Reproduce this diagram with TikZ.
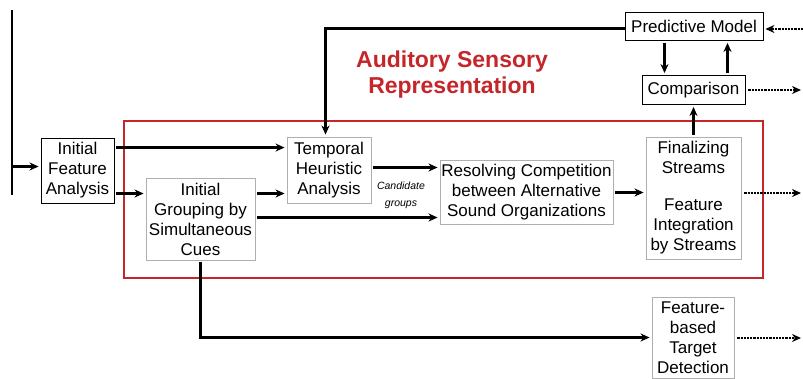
\documentclass[tikz,border=0pt]{standalone}
\usepackage{fontspec}
\setmainfont{Liberation Sans}
\usepackage{xcolor}
\usepackage{tikz}
\usetikzlibrary{arrows.meta,positioning,calc}

\definecolor{asrred}{RGB}{196,38,42}
\definecolor{boxgray}{RGB}{175,175,175}

\tikzset{
  blk/.style={draw=black, line width=0.9pt, align=center, inner sep=0pt,
    font=\fontsize{17}{20}\selectfont},
  gry/.style={blk, draw=boxgray},
  arr/.style={line width=2.2pt, -{Stealth[length=9pt,width=8pt]}, shorten >=2pt, shorten <=2pt},
  dotarr/.style={arr, densely dotted, line width=1.6pt, shorten <=3pt, shorten >=0pt}
}

\begin{document}
\begin{tikzpicture}[x=1pt,y=-1pt]
\useasboundingbox (0,0) rectangle (803,378);

% nodes
\node[draw=asrred, line width=1.6pt, minimum width=639pt, minimum height=157pt] (asr) at (443.5,199.5) {};
\node[text=asrred, align=center, font=\bfseries\fontsize{23}{26}\selectfont] (title) at (452,75) {Auditory Sensory\\Representation};

\node[blk, minimum width=73pt, minimum height=65pt] (ifa) at (77.5,170.5) {Initial\\Feature\\Analysis};
\node[gry, minimum width=109pt, minimum height=82pt] (grp) at (200.5,219) {Initial\\Grouping by\\Simultaneous\\Cues};
\node[gry, minimum width=84pt, minimum height=66pt] (temp) at (329,170) {Temporal\\Heuristic\\Analysis};
\node[gry, minimum width=173pt, minimum height=64pt] (res) at (526.5,192.5) {Resolving Competition\\between Alternative\\Sound Organizations};
\node[gry, minimum width=95pt, minimum height=122pt] (fin) at (693.5,198) {Finalizing\\Streams\\[17pt]Feature\\Integration\\by Streams};
\node[blk, minimum width=138pt, minimum height=28pt] (pred) at (694,26.5) {Predictive Model};
\node[blk, minimum width=103pt, minimum height=29pt] (comp) at (693.5,90) {Comparison};
\node[gry, minimum width=82pt, minimum height=81pt] (det) at (693,337.5) {Feature-\\based\\Target\\Detection};
\node[align=center, font=\itshape\fontsize{10.5}{17}\selectfont] (cand) at (401,195) {Candidate\\groups};

\coordinate (intop) at (12,10);
\coordinate (inbot) at (12,195);
\coordinate (in) at (12,166.5);
\coordinate (pin) at (803,29);
\coordinate (cout) at (801,90);
\coordinate (fout) at (801,193);
\coordinate (dout) at (801,338);

% input
\draw[line width=1.5pt] (intop) -- (inbot);
\draw[arr, shorten <=0pt] (in) -- (in -| ifa.west);

% connectors
\draw[arr] ([yshift=-10pt]ifa.north east) -- ([yshift=-10pt]ifa.north east -| temp.west);
\draw[arr] ([yshift=-23pt]ifa.east) -- ([yshift=-23pt]ifa.east -| grp.west);
\draw[arr] ([yshift=-23.5pt]temp.west -| grp.east) -- ([yshift=-23.5pt]temp.west);
\draw[arr] ([yshift=2.5pt]temp.east) -- ([yshift=2.5pt]temp.east -| res.west);
\draw[arr] ([yshift=1.5pt]grp.east) -- ([yshift=1.5pt]grp.east -| res.west);
\draw[arr] (res.east) -- (res.east -| fin.west);
\draw[arr] (fin.north) -- (comp.south);
\draw[arr, shorten <=0pt] ([yshift=-2pt]pred.west) -| ([xshift=-3.5pt]temp.north);
\draw[arr] ([xshift=-29.5pt]pred.south) -- ([xshift=-29.5pt]pred.south |- comp.north);
\draw[arr] ([xshift=34pt]comp.north) -- ([xshift=34pt]comp.north |- pred.south);
\draw[arr] (grp.south) |- (det.west);

% outputs
\draw[dotarr, shorten <=0pt, shorten >=2pt] (pin) -- (pin -| pred.east);
\draw[dotarr] (comp.east) -- (cout);
\draw[dotarr] ([yshift=5pt]fin.east) -- (fout);
\draw[dotarr] ([yshift=-0.5pt]det.east) -- (dout);

\end{tikzpicture}
\end{document}
